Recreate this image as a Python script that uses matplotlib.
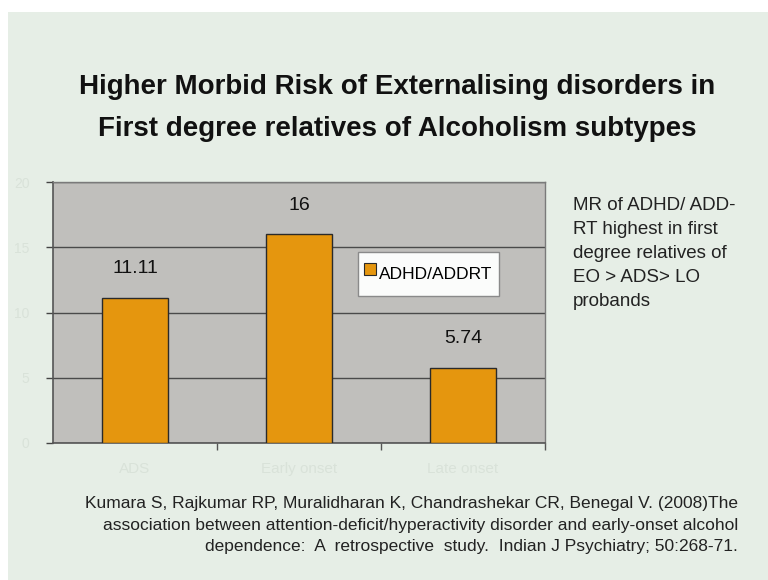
import matplotlib
matplotlib.use("Agg")
import matplotlib.pyplot as plt
from matplotlib.patches import Rectangle
from matplotlib.lines import Line2D

# Morbid risk values per proband group
categories = ["ADS", "Early onset", "Late onset"]
mr_values = [11.11, 16, 5.74]
value_labels = ["11.11", "16", "5.74"]
series_name = "ADHD/ADDRT"
y_ticks = [0, 5, 10, 15, 20]

SANS = ["Liberation Sans", "DejaVu Sans"]
BG = "#e6eee6"
BAR = "#e5960e"
FAINT = "#d9e2d9"

fig = plt.figure(figsize=(7.68, 5.80), dpi=100)
fig.patch.set_facecolor("white")

# slide background panel
fig.patches.append(Rectangle((8 / 768, 0), 1, 1 - 12 / 580, transform=fig.transFigure,
                             facecolor=BG, edgecolor="none", zorder=-10))

# title
fig.text(397 / 768, 1 - 87 / 580, "Higher Morbid Risk of Externalising disorders in",
         ha="center", va="center", fontsize=20, fontweight="bold", family=SANS, color="#111111")
fig.text(397 / 768, 1 - 129 / 580, "First degree relatives of Alcoholism subtypes",
         ha="center", va="center", fontsize=20, fontweight="bold", family=SANS, color="#111111")

ax = fig.add_axes([53 / 768, 1 - 443 / 580, 492 / 768, 261 / 580])
ax.set_facecolor("#c0bfbc")
x = list(range(len(categories)))
bars = ax.bar(x, mr_values, width=0.4, color=BAR, edgecolor="#2a2a2a", linewidth=1.0,
              zorder=3, label=series_name)
ax.set_xlim(-0.5, len(categories) - 0.5)
ax.set_ylim(y_ticks[0], y_ticks[-1])
ax.set_yticks(y_ticks)
ax.set_yticklabels([str(t) for t in y_ticks], color=FAINT, fontsize=10, family=SANS)
ax.yaxis.grid(True, color="#4a4a4a", linewidth=1.0, zorder=1)
ax.set_axisbelow(True)

# category boundaries carry the x ticks; labels sit at the centres
ax.set_xticks([i + 0.5 for i in x])
ax.set_xticklabels([])
ax.tick_params(axis="x", which="major", length=5, color="#555555", width=1)
ax.set_xticks(x, minor=True)
ax.set_xticklabels(categories, minor=True, color=FAINT, fontsize=11, family=SANS)
ax.tick_params(axis="x", which="minor", length=0, pad=14)
ax.tick_params(axis="y", length=5, color="#444444", width=1, pad=12)

for s in ["left", "bottom"]:
    ax.spines[s].set_color("#555555")
    ax.spines[s].set_linewidth(1.2)
for s in ["top", "right"]:
    ax.spines[s].set_color("#7a7a7a")
    ax.spines[s].set_linewidth(1.0)

for b, lab in zip(bars, value_labels):
    ax.annotate(lab, (b.get_x() + b.get_width() / 2, b.get_height()),
                xytext=(0, 21), textcoords="offset points", ha="center", va="center",
                fontsize=14, family=SANS, color="#111111")

handle = Line2D([], [], marker="s", linestyle="none", markersize=9,
                markerfacecolor=BAR, markeredgecolor="#2a2a2a", markeredgewidth=0.8)
leg = ax.legend([handle], [series_name], loc="upper left",
                bbox_to_anchor=((358 - 53) / 492, (443 - 252) / 261),
                prop={"family": SANS, "size": 12.5}, frameon=True, fancybox=False,
                framealpha=1.0, handlelength=0.6, handleheight=2.3, handletextpad=0.2,
                borderpad=0.4, borderaxespad=0)
leg.get_frame().set_facecolor("#fbfcfb")
leg.get_frame().set_edgecolor("#8a8a8a")
leg.get_frame().set_linewidth(1.0)

# side note
fig.text(573 / 768, 1 - 197 / 580,
         "MR of ADHD/ ADD-\nRT highest in first\ndegree relatives of\nEO > ADS> LO\nprobands",
         ha="left", va="top", fontsize=13.5, family=SANS, color="#222222", linespacing=1.53)

# reference
fig.text(738 / 768, 1 - 496 / 580,
         "Kumara S, Rajkumar RP, Muralidharan K, Chandrashekar CR, Benegal V. (2008)The\n"
         "association between attention-deficit/hyperactivity disorder and early-onset alcohol\n"
         "dependence:  A  retrospective  study.  Indian J Psychiatry; 50:268-71.",
         ha="right", va="top", fontsize=12.5, family=SANS, color="#222222",
         linespacing=1.55, multialignment="right")

fig.savefig("out.png", dpi=100, facecolor=fig.get_facecolor())
